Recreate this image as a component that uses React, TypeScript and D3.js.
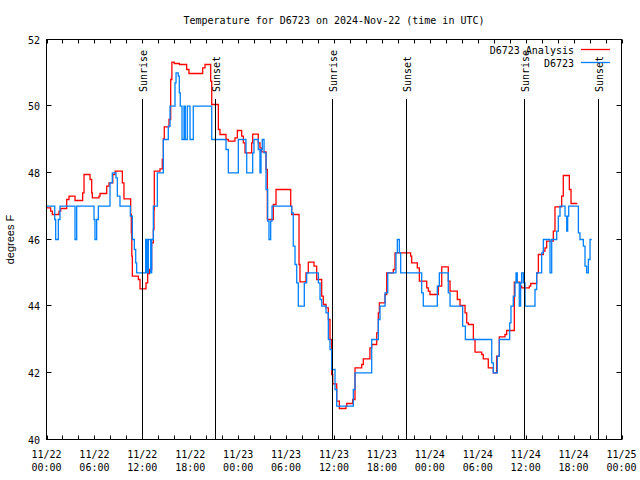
import React from "react";
import * as d3 from "d3";

const obsHours = [0.0,1.03,1.15,1.48,1.69,3.57,3.78,5.95,6.07,6.28,6.49,7.95,8.24,8.7,8.87,9.2,10.5,10.75,11.0,11.17,11.29,12.42,12.58,12.75,13.05,13.17,13.38,13.88,14.63,15.25,15.47,16.09,16.22,16.5,16.63,16.75,16.97,17.22,17.38,17.63,17.97,18.38,20.69,22.48,22.77,24.02,24.98,25.07,25.82,25.98,26.52,26.73,26.86,27.02,27.24,27.49,27.7,27.86,28.07,28.24,30.7,30.9,31.12,31.33,31.53,32.28,32.58,34.04,34.25,34.46,35.0,35.29,35.5,35.71,36.13,36.34,38.42,38.63,40.72,41.55,41.76,42.39,42.73,43.76,43.93,44.18,44.35,46.98,47.18,48.94,49.19,50.31,50.53,52.11,52.45,55.75,55.95,56.45,56.7,58.0,58.16,58.45,58.67,58.79,58.95,59.2,59.37,59.5,59.71,59.92,61.17,61.38,62.0,62.21,63.05,63.26,63.89,64.09,64.3,64.93,65.14,65.26,65.39,66.6,66.8,67.22,67.43,67.64,67.85,68.06,68.27];
const obsValues = [47,46.6,46,46.6,47,46,47,46.6,46,46.6,47,47.7,48,47.85,47.3,47,46.7,46,45.7,45.3,45,46,45,46,45,46,47,48,49,49.4,50,50.7,51,50.9,50.4,50,49,50,49,50,49,50,49,48.7,48,49,48.6,48,48.6,49,48.7,48,48.7,49,48.6,47.5,46.55,46,46.55,47,46.8,45.8,45.25,44.7,44,44.7,45,44.7,44.2,44,43.8,43,42.7,42.1,41.5,41,41.5,42,43,43.6,44,44.4,45,45.6,46,45.6,45,44.4,44,44.6,45,44.4,44,43.4,43,42.3,42,42.5,43,43.5,44,44.3,44.7,45,44.7,44,44.7,45,44.7,44,44.5,45,45.6,46,45,46,46.25,46.7,47,46.7,46.25,46.7,47,46.2,46,45.8,45.2,45,45.4,46,46];

const anaHours = [0.0,0.52,0.73,1.57,1.78,2.53,2.82,3.57,4.53,4.7,5.45,5.66,5.74,6.57,6.7,7.54,7.83,8.3,8.6,9.5,9.7,10.54,10.62,10.68,10.75,11.5,11.71,12.46,12.67,12.88,13.17,13.38,13.46,13.5,14.21,14.5,14.63,14.75,15.34,15.55,15.7,16.0,16.65,17.55,17.84,19.56,19.85,20.56,20.69,21.52,21.72,22.48,22.77,23.6,23.9,24.44,24.65,24.86,25.69,25.82,26.52,26.73,26.94,27.49,27.65,28.4,28.74,30.58,30.7,31.62,31.74,32.49,32.78,33.5,33.83,34.46,34.66,35.0,35.29,35.5,35.71,35.84,36.34,36.67,37.5,37.59,38.34,38.63,39.47,39.67,40.5,40.72,41.35,41.55,41.68,42.39,42.6,43.43,43.64,45.6,45.73,46.43,46.69,47.61,47.81,48.02,49.06,49.49,50.31,50.53,51.44,51.78,52.41,52.62,52.82,53.45,53.66,54.5,54.69,55.32,55.95,56.37,56.7,57.41,57.62,58.58,59.29,59.5,60.46,60.63,61.38,61.59,62.21,62.42,62.63,63.46,63.67,64.51,64.71,65.47,65.68,66.47];
const anaValues = [46.95,46.85,46.75,46.85,46.93,47.2,47.3,47.17,47.4,47.95,47.8,47.4,47.25,47.3,47.38,47.6,47.7,47.95,48.05,47.7,47.22,46.75,46.2,45.5,44.9,44.8,44.52,44.7,44.98,45.1,45.9,46.3,46.9,48.05,48.12,48.4,49.02,49.38,49.6,50.8,51.32,51.28,51.25,51.1,50.98,51.15,51.25,50.75,50.05,49.3,49.15,49.0,48.95,49.05,49.27,49.1,48.9,48.6,48.9,49.16,48.9,48.75,48.63,48.1,46.6,47.05,47.5,47.0,46.75,45.25,44.73,45.0,45.32,45.2,44.8,44.3,44.05,43.95,43.6,43.0,41.95,41.67,41.15,40.93,41.0,41.08,41.2,42.15,42.25,42.42,42.75,42.85,43.2,43.8,44.1,44.35,45.0,45.1,45.6,45.5,45.3,45.15,44.75,44.55,44.45,44.35,44.6,45.18,44.75,44.45,44.2,44.02,43.8,43.5,43.45,43.0,42.62,42.55,42.42,42.15,42.0,42.5,43.08,43.15,43.27,44.72,44.6,44.55,44.6,44.68,45.0,45.55,45.65,45.75,45.95,46.25,46.98,47.3,47.92,47.5,47.08,47.08];

const sunHours = [11.96, 21.1, 35.79, 45.05, 59.83, 69.1];
const sunLabels = ["Sunrise", "Sunset", "Sunrise", "Sunset", "Sunrise", "Sunset"];
const yTicks = [40, 42, 44, 46, 48, 50, 52];
const seriesNames = ["D6723 Analysis", "D6723"];
const seriesColors = ["#ff0000", "#0080ff"];
const titleText = "Temperature for D6723 on 2024-Nov-22 (time in UTC)";
const yLabel = "degrees F";

const start = Date.UTC(2024, 10, 22);
const toDate = (h: number) => new Date(start + h * 3600e3);

export default function App() {
  const W = 640, H = 480;
  const left = 46.5, right = 621.5, top = 39.5, bottom = 439.5;
  const x = d3.scaleUtc().domain([toDate(0), toDate(72)]).range([left, right]);
  const y = d3.scaleLinear().domain([40, 52]).range([bottom, top]);
  const mono = "'DejaVu Sans Mono', monospace";

  const line = d3
    .line<[number, number]>()
    .x((d) => x(toDate(d[0])))
    .y((d) => y(d[1]))
    .curve(d3.curveStepAfter);

  const ana: [number, number][] = anaHours.map((h, i) => [h, anaValues[i]]);
  const obs: [number, number][] = obsHours.map((h, i) => [h, obsValues[i]]);

  const minorTicks = x.ticks(d3.utcHour.every(2)!);
  const majorTicks = x.ticks(d3.utcHour.every(6)!);
  const fmtDate = d3.utcFormat("%m/%d");
  const fmtTime = d3.utcFormat("%H:%M");

  return (
    <svg width={W} height={H} style={{ position: "absolute", left: 0, top: 0, background: "#fff" }}>
      <rect x={0} y={0} width={W} height={H} fill="#fff" />
      <text x={(left + right) / 2} y={24} textAnchor="middle" fontFamily={mono} fontSize={10}>
        {titleText}
      </text>
      <text
        transform={`translate(14,${(top + bottom) / 2}) rotate(-90)`}
        textAnchor="middle"
        fontFamily="'Liberation Sans', Arial, sans-serif"
        fontSize={11}
      >
        {yLabel}
      </text>
      {/* y ticks */}
      {yTicks.map((t) => (
        <g key={"y" + t}>
          <line x1={left} x2={left + 5} y1={Math.round(y(t)) + 0.5 - 1} y2={Math.round(y(t)) + 0.5 - 1} stroke="#000" />
          <line x1={right} x2={right - 5} y1={Math.round(y(t)) + 0.5 - 1} y2={Math.round(y(t)) + 0.5 - 1} stroke="#000" />
          <text x={40} y={y(t) + 4} textAnchor="end" fontFamily={mono} fontSize={10}>
            {t}
          </text>
        </g>
      ))}
      {/* x ticks */}
      {minorTicks.map((t, i) => (
        <g key={"xm" + i}>
          <line x1={Math.round(x(t)) + 0.5} x2={Math.round(x(t)) + 0.5} y1={bottom} y2={bottom - 4} stroke="#000" />
          <line x1={Math.round(x(t)) + 0.5} x2={Math.round(x(t)) + 0.5} y1={top} y2={top + 4} stroke="#000" />
        </g>
      ))}
      {majorTicks.map((t, i) => (
        <g key={"xl" + i}>
          <text x={x(t)} y={458} textAnchor="middle" fontFamily={mono} fontSize={10}>
            {fmtDate(t)}
          </text>
          <text x={x(t)} y={471} textAnchor="middle" fontFamily={mono} fontSize={10}>
            {fmtTime(t)}
          </text>
        </g>
      ))}
      {/* data */}
      <path d={line(ana) || ""} fill="none" stroke={seriesColors[0]} strokeWidth={1.3} />
      <path d={line(obs) || ""} fill="none" stroke={seriesColors[1]} strokeWidth={1.3} />
      {/* sun lines */}
      {sunHours.map((h, i) => {
        const sx = Math.round(x(toDate(h))) + 0.5;
        return (
          <g key={"s" + i}>
            <line x1={sx} x2={sx} y1={99} y2={bottom} stroke="#000" strokeWidth={1} />
            <text
              transform={`translate(${sx + 4},92) rotate(-90)`}
              textAnchor="start"
              fontFamily={mono}
              fontSize={10}
            >
              {sunLabels[i]}
            </text>
          </g>
        );
      })}
      {/* legend */}
      {seriesNames.map((n, i) => (
        <g key={"lg" + i}>
          <text x={574} y={54 + i * 13} textAnchor="end" fontFamily={mono} fontSize={10}>
            {n}
          </text>
          <line x1={581} x2={610} y1={49.5 + i * 13} y2={49.5 + i * 13} stroke={seriesColors[i]} strokeWidth={1.3} />
        </g>
      ))}
      {/* frame */}
      <rect x={left} y={top} width={right - left} height={bottom - top} fill="none" stroke="#000" strokeWidth={1} />
    </svg>
  );
}
